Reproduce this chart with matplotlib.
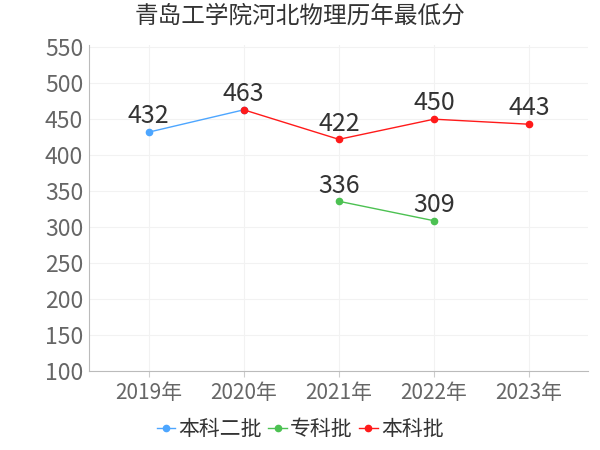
import matplotlib
matplotlib.use("Agg")
import matplotlib.pyplot as plt
import numpy as np

plt.rcParams['font.family'] = ['Noto Sans CJK SC', 'DejaVu Sans']

years = ["2019年", "2020年", "2021年", "2022年", "2023年"]
# None = no score that year
benke2 = [432, 463, None, None, None]
zhuanke = [None, None, 336, 309, None]
benke = [None, 463, 422, 450, 443]

series = [
    ("本科二批", benke2, "#4da6ff"),
    ("专科批", zhuanke, "#4cc152"),
    ("本科批", benke, "#ff1a1a"),
]

fig = plt.figure(figsize=(6, 4.5), dpi=100)
ax = fig.add_axes([0.148, 0.175, 0.832, 0.725])

x = np.arange(len(years))
labelled = set()
for name, vals, color in series:
    xs = [i for i, v in enumerate(vals) if v is not None]
    ys = [v for v in vals if v is not None]
    ax.plot(xs, ys, color=color, lw=1, marker="o", ms=4.5, label=name)
    for xi, yi in zip(xs, ys):
        if (xi, yi) in labelled:
            continue
        labelled.add((xi, yi))
        ax.annotate(str(yi), (xi, yi), xytext=(0, 2), textcoords="offset points",
                    ha="center", va="bottom", fontsize=18, color="#333333")

ax.set_xlim(-0.63, 4.62)
ax.set_ylim(100, 553)
ax.set_yticks(range(100, 551, 50))
ax.set_xticks(x)
ax.set_xticklabels(years)
ax.tick_params(axis="y", length=0, labelsize=16.5, colors="#666666", pad=4)
ax.tick_params(axis="x", length=4, color="#cccccc", labelsize=15, labelcolor="#666666", pad=4)
ax.grid(True, color="#f2f2f2", lw=0.8)
for s in ["top", "right"]:
    ax.spines[s].set_visible(False)
ax.spines["left"].set_color("#bbbbbb")
ax.spines["bottom"].set_color("#bbbbbb")

fig.suptitle("青岛工学院河北物理历年最低分", x=0.5, y=0.99, fontsize=17, color="#333333")
fig.legend(loc="lower center", bbox_to_anchor=(0.5, -0.02), ncol=3, frameon=False,
           fontsize=15, handlelength=0.9, handletextpad=0.15, columnspacing=0.3,
           labelcolor="#333333")

fig.savefig("out.png", dpi=100)
